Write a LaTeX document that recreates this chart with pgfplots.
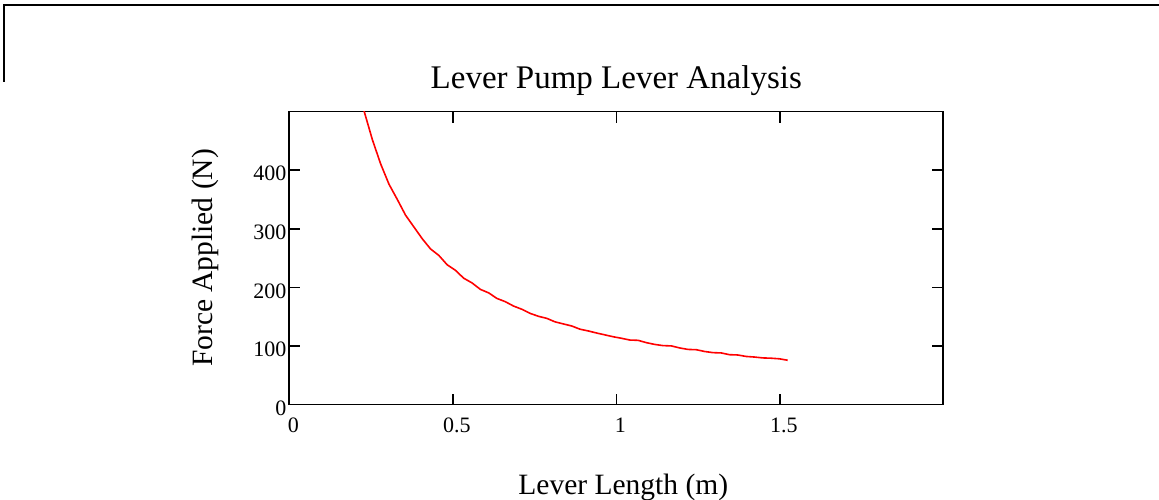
\documentclass[border=0pt]{standalone}
\usepackage{fontspec}
\setmainfont{Liberation Serif}
\usepackage{pgfplots}
\pgfplotsset{compat=1.18}

% lever length (m) against force (N)
\pgfplotstableread{
L F
0.2286 500.9
0.2540 452.0
0.2794 410.5
0.3048 376.0
0.3302 350.0
0.3556 323.0
0.3810 303.0
0.4064 283.0
0.4318 265.5
0.4572 254.5
0.4826 238.5
0.5080 229.0
0.5334 215.5
0.5588 207.5
0.5842 196.5
0.6096 190.5
0.6350 181.0
0.6604 175.5
0.6858 168.0
0.7112 162.5
0.7366 155.5
0.7620 150.5
0.7874 147.0
0.8128 141.0
0.8382 137.5
0.8636 134.0
0.8890 128.5
0.9144 125.5
0.9398 122.0
0.9652 118.8
0.9906 115.6
1.0160 113.0
1.0414 110.0
1.0668 109.5
1.0922 105.5
1.1176 102.5
1.1430 100.5
1.1684 100.0
1.1938 96.5
1.2192 94.0
1.2446 93.5
1.2700 90.5
1.2954 88.5
1.3208 88.0
1.3462 85.0
1.3716 84.5
1.3970 82.0
1.4224 81.0
1.4478 79.5
1.4732 79.0
1.4986 78.0
1.5240 75.5
}\leverdata

\begin{document}
\begin{tikzpicture}
\begin{axis}[
    at={(289.3pt,94.5pt)}, anchor=south west,
    scale only axis, width=654pt, height=293pt,
    xmin=0, xmax=2, ymin=0, ymax=500,
    xtick={0,0.5,1,1.5}, xticklabels={0,0.5,1,1.5},
    ytick={0,100,200,300,400}, yticklabels={0,100,200,300,400},
    tick align=inside, major tick length=11pt,
    axis line style={line width=1.7pt},
    every tick/.style={black, line width=1.6pt},
    tick label style={font=\fontsize{22}{24}\selectfont, inner sep=0pt},
    xticklabel style={anchor=base, yshift=-28pt, xshift=4pt},
    yticklabel style={anchor=east, xshift=-2.8pt, yshift=-3.5pt},
    title={Lever Pump Lever Analysis},
    every axis title/.style={at={(axis description cs:0.5,1.0802)}, anchor=base,
        font=\fontsize{33}{35}\selectfont},
    xlabel={Lever Length (m)},
    every axis x label/.style={at={(axis description cs:0.5107,-0.3080)}, anchor=base,
        font=\fontsize{29.5}{31}\selectfont},
    ylabel={Force Applied (N)},
    every axis y label/.style={at={(axis description cs:-0.1167,0.5)}, rotate=90,
        anchor=base, font=\fontsize{29.5}{31}\selectfont},
]
\addplot[red, line width=1.6pt, no marks] table[x=L, y=F] {\leverdata};
\end{axis}
\draw[line width=1.2pt] (4pt,417pt) -- (4pt,494pt) -- (1162pt,494pt);
\pgfresetboundingbox
\useasboundingbox (0,0) rectangle (1159pt,499pt);
\end{tikzpicture}
\end{document}
